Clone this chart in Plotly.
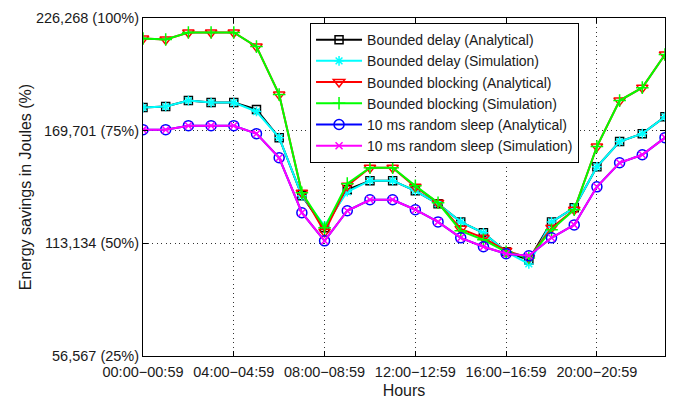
import plotly.graph_objects as go

hours = list(range(24))
x_tick_vals = [0, 4, 8, 12, 16, 20]
x_tick_text = ["00:00\u221200:59", "04:00\u221204:59", "08:00\u221208:59",
               "12:00\u221212:59", "16:00\u221216:59", "20:00\u221220:59"]
y_tick_vals = [56567, 113134, 169701, 226268]
y_tick_text = ["56,567 (25%)", "113,134 (50%)", "169,701 (75%)", "226,268 (100%)"]

delay_analytical = [181300, 181800, 184800, 183800, 183800, 180300, 166200, 137000,
                    120900, 140000, 144600, 144600, 139500, 133000, 123900, 118400,
                    108900, 104800, 123900, 131000, 151600, 164200, 168200, 176700]
delay_simulation = [181300, 181800, 184800, 183800, 183800, 179300, 166200, 137000,
                    121900, 139000, 144600, 144600, 139500, 133000, 123900, 118400,
                    108900, 102800, 123900, 131000, 151600, 164200, 168200, 176700]
blocking_analytical = [216000, 215500, 219000, 219000, 219000, 211900, 187800, 138500,
                       118900, 142000, 151100, 151100, 141500, 133500, 120400, 115900,
                       109400, 105800, 120900, 130000, 161700, 184800, 191300, 207900]
blocking_simulation = [216000, 215500, 219000, 219000, 219000, 211900, 187800, 138500,
                       120900, 143100, 151100, 151100, 142000, 133500, 119400, 114900,
                       108900, 105800, 119900, 130000, 161700, 184800, 191300, 207900]
sleep_analytical = [170200, 170200, 172200, 172200, 172200, 168200, 156100, 128500,
                    114400, 129500, 135000, 135000, 130000, 123900, 115900, 111400,
                    107900, 106900, 115900, 122400, 141500, 153600, 157600, 166200]
sleep_simulation = [170200, 170200, 172200, 172200, 172200, 168200, 156100, 128500,
                    114400, 129500, 135000, 135000, 130000, 123900, 115900, 111400,
                    107900, 106900, 115900, 122400, 141500, 153600, 157600, 166200]

series = [
    ("Bounded delay (Analytical)", delay_analytical, "#000000", "square-open", 8),
    ("Bounded delay (Simulation)", delay_simulation, "#00FFFF", "asterisk-open", 8),
    ("Bounded blocking (Analytical)", blocking_analytical, "#FF0000", "triangle-down-open", 10),
    ("Bounded blocking (Simulation)", blocking_simulation, "#00FF00", "cross-thin-open", 9),
    ("10 ms random sleep (Analytical)", sleep_analytical, "#0000FF", "circle-open", 10),
    ("10 ms random sleep (Simulation)", sleep_simulation, "#FF00FF", "x-thin-open", 7),
]

fig = go.Figure()
for name, vals, color, sym, size in series:
    fig.add_trace(go.Scatter(
        x=hours, y=vals, name=name, mode="lines+markers",
        line=dict(color=color, width=2),
        marker=dict(symbol=sym, size=size, color=color, line=dict(color=color, width=1.5)),
    ))

font_family = "Liberation Sans, Arial, sans-serif"
fig.update_layout(
    width=676, height=401,
    margin=dict(l=143, r=11, t=18, b=45),
    paper_bgcolor="white", plot_bgcolor="white",
    font=dict(family=font_family, size=14.5, color="#1a1a1a"),
    legend=dict(
        x=0.32, y=0.985, xanchor="left", yanchor="top",
        bgcolor="white", bordercolor="#000000", borderwidth=1,
        font=dict(size=14), itemwidth=46, tracegroupgap=0,
    ),
    xaxis=dict(
        range=[0, 23], tickvals=x_tick_vals, ticktext=x_tick_text,
        showline=True, linecolor="#000000", linewidth=1, mirror="ticks",
        ticks="inside", ticklen=5, tickcolor="#000000", ticklabelstandoff=3,
        showgrid=True, gridcolor="#333333", griddash="1px,3.5px", gridwidth=1,
        zeroline=False, automargin=False,
        title=dict(text="Hours", font=dict(size=16), standoff=5),
    ),
    yaxis=dict(
        range=[56567, 226268], tickvals=y_tick_vals, ticktext=y_tick_text,
        showline=True, linecolor="#000000", linewidth=1, mirror="ticks",
        ticks="inside", ticklen=5, tickcolor="#000000",
        showgrid=True, gridcolor="#333333", griddash="1px,3.5px", gridwidth=1,
        zeroline=False, automargin=False,
        title=dict(text="Energy savings in Joules (%)", font=dict(size=16), standoff=0),
    ),
)

fig.write_html("out.html")
